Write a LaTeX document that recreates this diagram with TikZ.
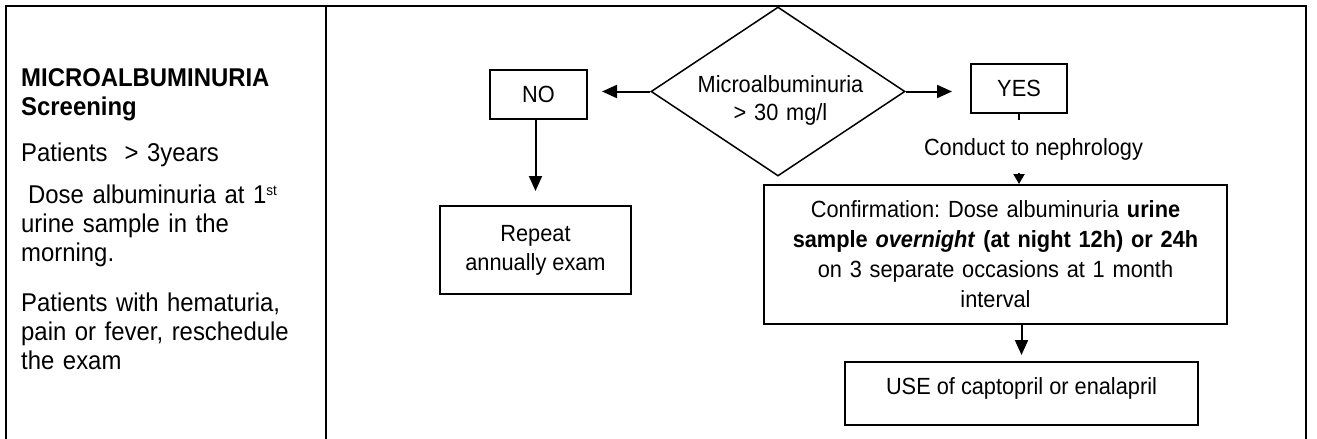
\documentclass[tikz,border=0pt]{standalone}
\usepackage{fontspec}
\setmainfont{Liberation Sans}[FakeStretch=0.93]
\usetikzlibrary{shapes.geometric,arrows.meta}
\frenchspacing

\begin{document}
\begin{tikzpicture}[x=1pt,y=-1pt,
  frame/.style={line width=2.3pt},
  box/.style={draw,rectangle,line width=2pt,inner sep=0pt,align=center,
    font=\fontsize{23.4}{30}\selectfont},
  decision/.style={draw,diamond,line width=1.5pt,inner sep=0pt},
  label text/.style={inner sep=0pt,font=\fontsize{23.4}{30}\selectfont},
  arr/.style={line width=2pt,-{Triangle[length=15pt,width=13pt]}},
  smallarr/.style={line width=2pt,-{Triangle[length=10pt,width=11pt]}}]

  \useasboundingbox (0,0) rectangle (1317,439);

  % table frame, open at the bottom, with the column divider
  \draw[frame] (6,439) -- (6,6) -- (1306,6) -- (1306,439);
  \draw[frame] (326,6) -- (326,439);

  % left column
  \node[anchor=base west,inner sep=0pt,text width=300pt,align=left,
        font=\fontsize{25.7}{29}\selectfont] (info) at (21,86.7)
    {\textbf{MICROALBUMINURIA}\\
     \textbf{Screening}\\[17pt]
     Patients~~> 3years\\[12.7pt]
     \hspace*{7pt}Dose albuminuria at 1\raisebox{8pt}{\fontsize{14.5}{15}\selectfont st}\\
     urine sample in the\\
     morning.\\[20.7pt]
     Patients with hematuria,\\
     pain or fever, reschedule\\
     the exam};

  % decision
  \node[decision,minimum width=254pt,minimum height=169pt,aspect=1.5] (dec) at (778,91.5) {};
  \node[label text,anchor=base,text width=200pt,align=center,
        font=\fontsize{23.4}{27.7}\selectfont] (dectext) at (780.5,92.3)
    {Microalbuminuria\\> 30 mg/l};

  % NO branch
  \node[box,minimum width=97pt,minimum height=49pt] (no) at (538.5,94.5) {NO};
  \node[box,minimum width=191pt,minimum height=88pt,
        font=\fontsize{23.4}{29}\selectfont] (repeat) at (535.5,250)
    {Repeat\\annually exam};

  % YES branch
  \node[box,minimum width=96pt,minimum height=49pt] (yes) at (1019,88.5) {YES};
  \coordinate (tickend) at (1019,120);
  \node[label text,anchor=base] (conduct) at (1033.5,155) {Conduct to nephrology};
  \coordinate (headstart) at (1019,173);
  \node[box,minimum width=463pt,minimum height=139pt,text width=450pt] (conf) at (995.5,254.5)
    {Confirmation: Dose albuminuria \textbf{urine}\\
     \textbf{sample \textit{overnight} (at night 12h) or 24h}\\
     on 3 separate occasions at 1 month\\
     interval};
  \node[box,minimum width=353pt,minimum height=63pt,text height=17pt,text depth=15pt] (use)
    at (1021.5,393.5) {USE of captopril or enalapril};

  % connectors
  \draw[arr,shorten >=14pt] (dec.west) -- (dec.west -| no.east);
  \draw[arr,shorten >=18pt] (dec.east) -- (dec.east -| yes.west);
  \draw[arr,shorten >=14pt] (repeat.north |- no.south) -- (repeat.north);
  \draw[line width=2pt] (yes.south) -- (tickend);
  \draw[smallarr] (headstart) -- (headstart |- conf.north);
  \draw[arr,shorten >=6pt] (use.north |- conf.south) -- (use.north);
\end{tikzpicture}
\end{document}
